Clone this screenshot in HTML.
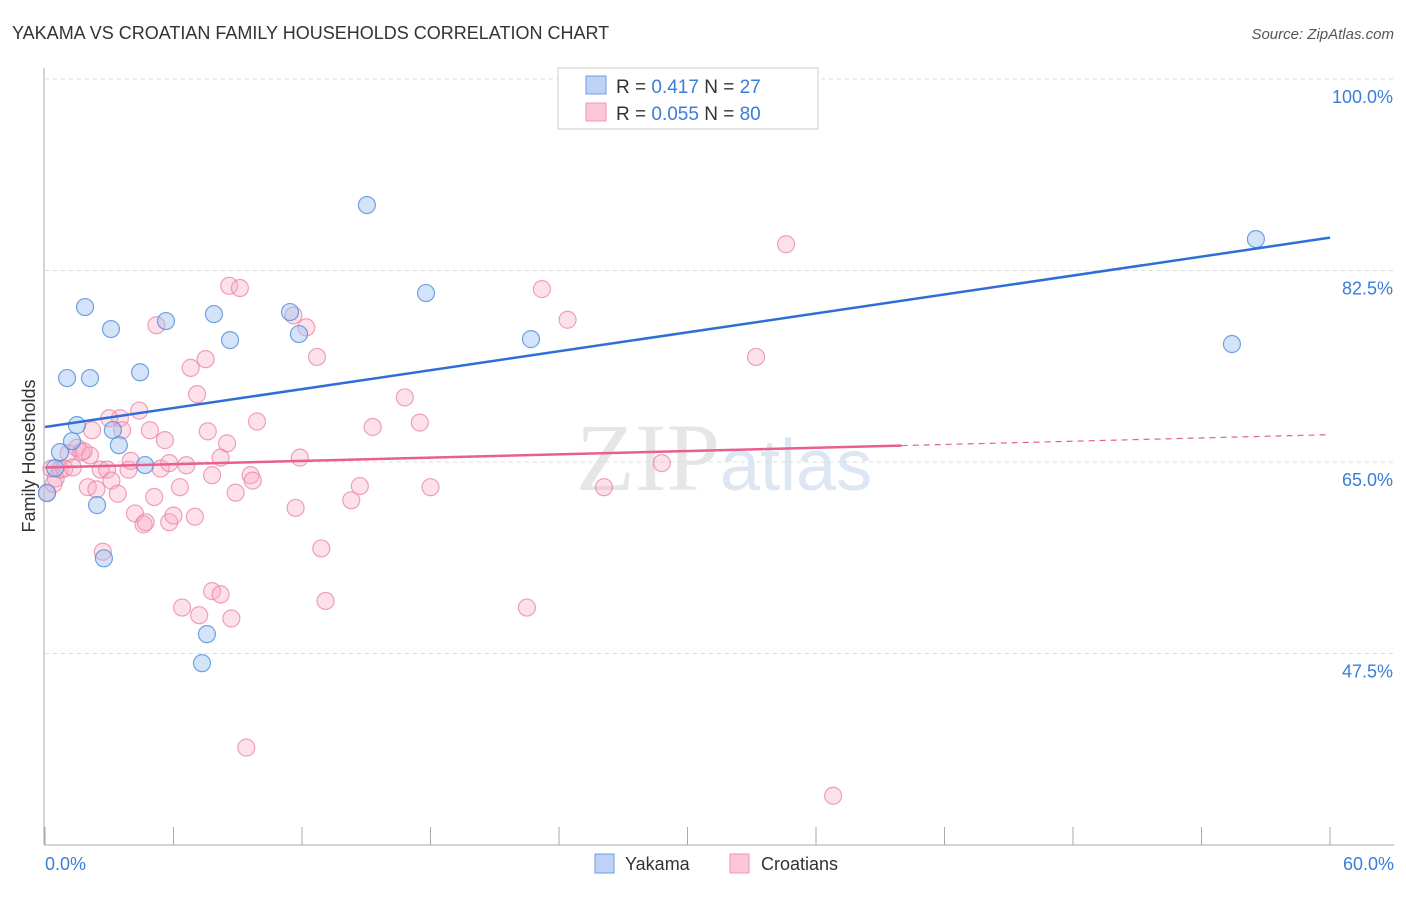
<!DOCTYPE html>
<html><head><meta charset="utf-8"><style>
body{margin:0;background:#fff;font-family:"Liberation Sans",sans-serif;}
</style></head><body>
<svg id="chart" width="1406" height="892" xmlns="http://www.w3.org/2000/svg">
<text x="12" y="39" font-size="18" fill="#333">YAKAMA VS CROATIAN FAMILY HOUSEHOLDS CORRELATION CHART</text>
<text x="1394" y="39" font-size="15" fill="#555" font-style="italic" text-anchor="end">Source: ZipAtlas.com</text>
<text x="720" y="490" font-size="96" fill="#e6e6e6" font-family="Liberation Serif,serif" text-anchor="end">ZIP</text>
<text x="720" y="490" font-size="72" fill="#dde6f3" text-anchor="start">atlas</text>
<g id="grid"></g>
<line x1="44" y1="68" x2="44" y2="845" stroke="#aaa"/>
<line x1="44" y1="845" x2="1394" y2="845" stroke="#aaa"/>
<g id="xt"></g>
<text x="35" y="456" font-size="18" fill="#333" transform="rotate(-90 35 456)" text-anchor="middle">Family Households</text>
<text x="45" y="870" font-size="18" fill="#3b7dd8">0.0%</text>
<text x="1394" y="870" font-size="18" fill="#3b7dd8" text-anchor="end">60.0%</text>
<g id="pts"></g>
<g id="lines"></g>
<g>
<rect x="558" y="68" width="260" height="61" fill="#fff" stroke="#ccc"/>
<rect x="586" y="76" width="20" height="18" fill="#bcd3f5" stroke="#6f9be0"/>
<rect x="586" y="103" width="20" height="18" fill="#fcc8d8" stroke="#ee96b2"/>
<text x="616" y="93" font-size="19" fill="#333">R = <tspan fill="#3b7dd8"> 0.417</tspan>   N = <tspan fill="#3b7dd8"> 27</tspan></text>
<text x="616" y="120" font-size="19" fill="#333">R = <tspan fill="#3b7dd8">0.055</tspan>   N = <tspan fill="#3b7dd8">80</tspan></text>
</g>
<g><rect x="595" y="854" width="19" height="19" fill="#bcd3f5" stroke="#6f9be0"/><text x="625" y="870" font-size="18" fill="#333">Yakama</text></g>
<g><rect x="730" y="854" width="19" height="19" fill="#fcc8d8" stroke="#ee96b2"/><text x="761" y="870" font-size="18" fill="#333">Croatians</text></g>
</svg>
<script>
const yTicks=[100,82.5,65,47.5];
const yTickLabels=["100.0%","82.5%","65.0%","47.5%"];
const xTicks=[0,6,12,18,24,30,36,42,48,54,60];
const yakamaX=[0.09,0.47,0.70,1.26,1.03,1.49,1.87,2.10,2.43,2.75,3.08,3.17,3.45,4.44,4.67,5.65,7.33,7.56,7.89,8.64,11.44,11.86,15.03,17.79,22.69,55.42,56.54];
const yakamaY=[62.16,64.44,65.9,66.9,72.67,68.37,79.16,72.67,61.06,56.2,77.15,67.92,66.54,73.2,64.72,77.88,46.62,49.27,78.52,76.14,78.7,76.69,88.48,80.44,76.23,75.78,85.37];
const croX=[0.1,0.3,0.5,0.7,0.9,1.1,1.3,1.5,1.7,2.0,2.1,2.2,2.4,2.6,2.7,2.9,3.1,3.4,3.5,3.6,3.9,4.0,4.2,4.4,4.6,4.7,4.9,5.1,5.2,5.4,5.6,5.8,5.8,6.0,6.3,6.4,6.6,6.8,7.0,7.1,7.2,7.5,7.6,7.8,7.8,8.2,8.2,8.5,8.6,8.7,8.9,9.1,9.4,9.6,9.7,9.9,11.6,11.7,11.9,12.2,12.7,12.9,13.1,14.3,14.7,15.3,16.8,17.5,18.0,22.5,23.2,24.4,26.1,28.8,33.2,34.6,36.8,3.0,0.4,1.8];
const croY=[62.2,64.4,63.5,64.3,64.4,65.8,64.5,66.3,65.9,62.7,65.6,67.9,62.5,64.3,56.8,64.3,63.3,62.1,69.0,67.9,64.3,65.1,60.3,69.7,59.3,59.5,67.9,61.8,77.5,64.4,67.0,64.9,59.5,60.1,62.7,51.7,64.7,73.6,60.0,71.2,51.0,74.4,67.8,53.2,63.8,65.4,52.9,66.7,81.1,50.7,62.2,80.9,38.9,63.8,63.3,68.7,78.4,60.8,65.4,77.3,74.6,57.1,52.3,61.5,62.8,68.2,70.9,68.6,62.7,51.7,80.8,78.0,62.7,64.9,74.6,84.9,34.5,69.0,63.0,66.0];
const yakamaFit=[68.2,85.5];
const croFit=[64.5,67.5];
const NS="http://www.w3.org/2000/svg";
const xs=v=>45+v*(1285/60);
const ys=v=>79+(100-v)*(383/35);
function mk(tag,attrs,parent){const e=document.createElementNS(NS,tag);for(const k in attrs)e.setAttribute(k,attrs[k]);parent.appendChild(e);return e;}
const grid=document.getElementById('grid');
yTicks.forEach((t,i)=>{
 const l=mk('line',{x1:45,x2:1394,y1:ys(t),y2:ys(t),stroke:'#ddd','stroke-dasharray':'4,4'},grid);
 
 
 const tx=mk('text',{x:1393,y:ys(t)+24,'font-size':18,fill:'#3b7dd8','text-anchor':'end'},grid);
 tx.textContent=yTickLabels[i];
 
 
});
const xt=document.getElementById('xt');
xTicks.forEach(t=>{
 const l=mk('line',{x1:xs(t),x2:xs(t),y1:827,y2:845,stroke:'#aaa'},xt);
 
 
});
const pts=document.getElementById('pts');
croX.forEach((x,i)=>{
 const c=mk('circle',{cx:xs(x),cy:ys(croY[i]),r:8.5,fill:'rgba(248,170,195,0.35)',stroke:'rgba(235,130,165,0.75)','stroke-width':1.2},pts);
 
 
});
yakamaX.forEach((x,i)=>{
 const c=mk('circle',{cx:xs(x),cy:ys(yakamaY[i]),r:8.5,fill:'rgba(160,195,240,0.45)',stroke:'rgba(80,140,220,0.8)','stroke-width':1.2},pts);
 
 
});
const lines=document.getElementById('lines');
const bl=mk('line',{x1:xs(0),y1:ys(yakamaFit[0]),x2:xs(60),y2:ys(yakamaFit[1]),stroke:'#2d6fd6','stroke-width':2.5},lines);


const cm=croFit[0]+(croFit[1]-croFit[0])*(40/60);
const pl=mk('line',{x1:xs(0),y1:ys(croFit[0]),x2:xs(40),y2:ys(cm),stroke:'#e8608e','stroke-width':2.5},lines);


const pd=mk('line',{x1:xs(40),y1:ys(cm),x2:xs(60),y2:ys(croFit[1]),stroke:'#e8608e','stroke-width':1.2,'stroke-dasharray':'6,5'},lines);


</script>
</body></html>
